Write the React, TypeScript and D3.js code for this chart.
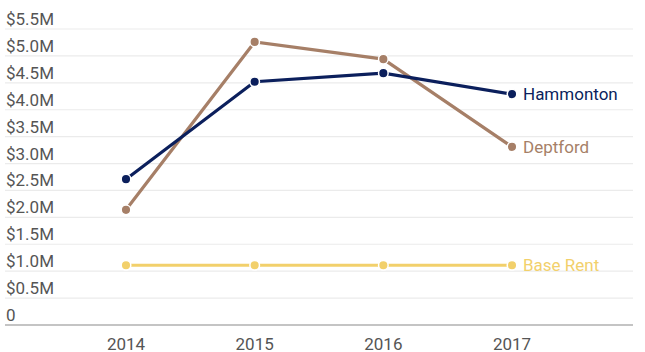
import React from "react";
import * as d3 from "d3";

const years = [2014, 2015, 2016, 2017];
const hammonton = [2.71e6, 4.52e6, 4.68e6, 4.29e6];
const deptford = [2.14e6, 5.26e6, 4.94e6, 3.31e6];
const baseRent = [1.11e6, 1.11e6, 1.11e6, 1.11e6];
const yTicks = [0, 0.5e6, 1e6, 1.5e6, 2e6, 2.5e6, 3e6, 3.5e6, 4e6, 4.5e6, 5e6, 5.5e6];

const series = [
  { name: "Base Rent", values: baseRent, color: "#f2d06b" },
  { name: "Deptford", values: deptford, color: "#a67f67" },
  { name: "Hammonton", values: hammonton, color: "#0b1f5c" },
];

const W = 645;
const H = 352;
const FONT = "Roboto, 'Noto Sans', sans-serif";

export default function App() {
  const x = d3.scaleLinear().domain([2014, 2017]).range([126, 512]);
  const y = d3.scaleLinear().domain([0, 5.5e6]).range([325, 29]);
  const line = d3
    .line<number>()
    .x((_, i) => x(years[i]))
    .y((d) => y(d));
  const fmt = (v: number) => (v === 0 ? "0" : `$${(v / 1e6).toFixed(1)}M`);

  return (
    <svg
      width={W}
      height={H}
      style={{ position: "absolute", left: 0, top: 0, background: "#fff" }}
      fontFamily={FONT}
    >
      {yTicks.map((t) =>
        t === 0 ? null : (
          <line key={"g" + t} x1={5} x2={633} y1={y(t)} y2={y(t)} stroke="#ebebeb" strokeWidth={1.2} />
        )
      )}
      <line x1={5} x2={633} y1={y(0)} y2={y(0)} stroke="#8a8a8a" strokeWidth={1.2} />
      {yTicks.map((t) => (
        <text key={"l" + t} x={6} y={y(t) - 4} fontSize={17} fill="#555">
          {fmt(t)}
        </text>
      ))}
      {years.map((yr) => (
        <text key={"x" + yr} x={x(yr)} y={350} fontSize={17} fill="#555" textAnchor="middle">
          {yr}
        </text>
      ))}
      {series.map((s) => (
        <g key={s.name}>
          <path d={line(s.values) || ""} fill="none" stroke={s.color} strokeWidth={3.2} />
          {s.values.map((v, i) => (
            <circle key={i} cx={x(years[i])} cy={y(v)} r={4.8} fill={s.color} stroke="#fff" strokeWidth={1.5} />
          ))}
          <text
            x={x(years[years.length - 1]) + 11}
            y={y(s.values[s.values.length - 1])}
            dy="0.35em"
            fontSize={17}
            fill={s.color}
          >
            {s.name}
          </text>
        </g>
      ))}
    </svg>
  );
}
